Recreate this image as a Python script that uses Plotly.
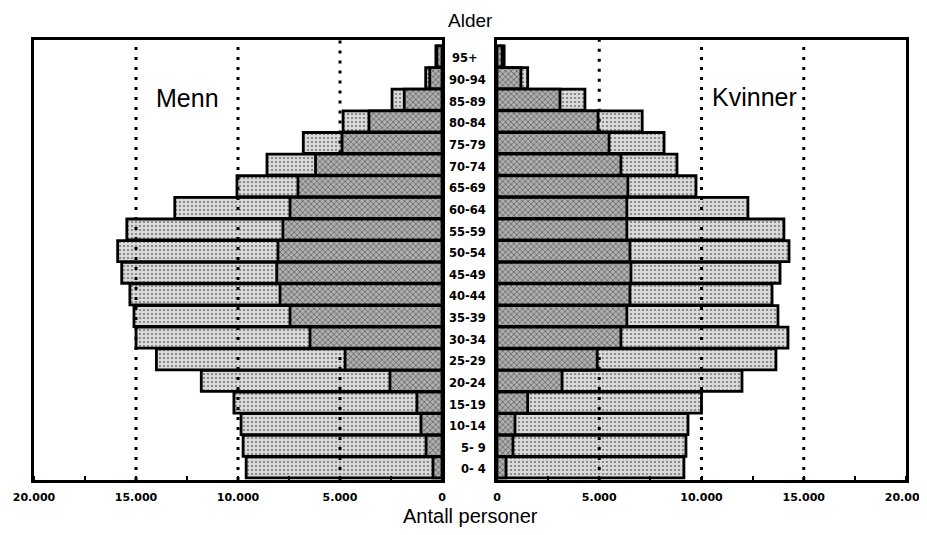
import plotly.graph_objects as go

ages = ["0- 4", "5- 9", "10-14", "15-19", "20-24", "25-29", "30-34", "35-39", "40-44",
        "45-49", "50-54", "55-59", "60-64", "65-69", "70-74", "75-79", "80-84", "85-89",
        "90-94", "95+"]

menn_total = [9600, 9750, 9850, 10200, 11800, 14000, 15000, 15100, 15300,
              15700, 15900, 15450, 13100, 10050, 8580, 6800, 4850, 2450, 800, 300]
menn_inner = [440, 780, 1030, 1230, 2550, 4750, 6470, 7450, 7940,
              8100, 8040, 7800, 7450, 7060, 6200, 4900, 3580, 1850, 600, 250]

kvinner_total = [9140, 9240, 9340, 10000, 11980, 13640, 14230, 13740, 13450,
                 13840, 14280, 14030, 12270, 9730, 8800, 8170, 7100, 4300, 1500, 350]
kvinner_inner = [440, 780, 880, 1500, 3180, 4900, 6060, 6350, 6500,
                 6550, 6500, 6350, 6350, 6400, 6060, 5480, 4940, 3080, 1170, 250]

tick_vals = [0, 5000, 10000, 15000, 20000]
tick_text = ["0", "5.000", "10.000", "15.000", "20.000"]
grid_vals = [5000, 10000, 15000]

outer_marker = dict(
    color="#d6d6d6",
    line=dict(color="black", width=2.8),
    pattern=dict(shape=".", fgcolor="#1a1a1a", bgcolor="#d9d9d9", size=4, solidity=0.24),
)
inner_marker = dict(
    color="#a8a8a8",
    line=dict(color="black", width=2.8),
    pattern=dict(shape="x", fgcolor="#1e1e1e", bgcolor="#b0b0b0", size=4, solidity=0.38),
)

fig = go.Figure()
fig.add_trace(go.Bar(y=ages, x=menn_total, orientation="h", xaxis="x", yaxis="y",
                     marker=outer_marker, width=0.97, showlegend=False))
fig.add_trace(go.Bar(y=ages, x=menn_inner, orientation="h", xaxis="x", yaxis="y",
                     marker=inner_marker, width=0.97, showlegend=False))
fig.add_trace(go.Bar(y=ages, x=kvinner_total, orientation="h", xaxis="x2", yaxis="y2",
                     marker=outer_marker, width=0.97, showlegend=False))
fig.add_trace(go.Bar(y=ages, x=kvinner_inner, orientation="h", xaxis="x2", yaxis="y2",
                     marker=inner_marker, width=0.97, showlegend=False))

# The page body has an 8px margin; size the figure so the plot lands where intended.
OFF = 8
W, H = 927 - OFF, 535 - OFF
ml, mt = 34 - OFF, 40 - OFF
mr = W - (906 - OFF)
mb = H - (480 - OFF)
pw = W - ml - mr
left_end = (442 - 34) / pw
right_start = (497 - 34) / pw

YR = [-0.58, 19.76]

tickfont = dict(family="DejaVu Sans", size=11, color="black", weight="bold")
common_x = dict(
    showline=True, linewidth=3, linecolor="black", mirror=True,
    showgrid=False,
    tickvals=tick_vals, ticktext=tick_text, ticks="",
    tickfont=tickfont, zeroline=False, ticklabelstandoff=5, automargin=False,
    ticklabeloverflow="allow",
    minor=dict(ticks="inside", ticklen=4, tickwidth=2, tickcolor="black",
               dtick=2500, tick0=0, showgrid=False),
)
common_y = dict(
    showline=True, linewidth=3, linecolor="black", mirror=True,
    showgrid=False, showticklabels=False, ticks="", zeroline=False,
    categoryorder="array", categoryarray=ages, range=YR, automargin=False,
)

fig.update_layout(
    width=W, height=H,
    margin=dict(l=ml, r=mr, t=mt, b=mb, autoexpand=False),
    paper_bgcolor="white", plot_bgcolor="white",
    barmode="overlay",
    xaxis=dict(domain=[0, left_end], range=[20000, 0], anchor="y", **common_x),
    xaxis2=dict(domain=[right_start, 1], range=[0, 20000], anchor="y2", **common_x),
    yaxis=dict(anchor="x", **common_y),
    yaxis2=dict(anchor="x2", matches="y", **common_y),
    font=dict(family="Liberation Sans", color="black"),
)

# dotted reference lines: visible over the light bars, hidden behind the dark inner bars
def add_dotted(inner, xref, yref):
    n = len(inner)
    for g in grid_vals:
        i = 0
        while i < n:
            if inner[i] < g:
                j = i
                while j + 1 < n and inner[j + 1] < g:
                    j += 1
                y0 = YR[0] if i == 0 else i - 0.485
                y1 = YR[1] if j == n - 1 else j + 0.485
                fig.add_shape(type="line", xref=xref, yref=yref, x0=g, x1=g, y0=y0, y1=y1,
                              layer="above",
                              line=dict(color="black", width=3, dash="3px,7px"))
                i = j + 1
            else:
                i += 1

add_dotted(menn_inner, "x", "y")
add_dotted(kvinner_inner, "x2", "y2")

age_font = dict(family="DejaVu Sans", size=11.5, color="black", weight="bold")
for a in ages:
    if a == "95+":
        fig.add_annotation(x=(450 - 34) / pw, xref="paper", y=a, yref="y", text=a,
                           showarrow=False, xanchor="left", yshift=-2, font=age_font)
    else:
        fig.add_annotation(x=(488 - 34) / pw, xref="paper", y=a, yref="y", text=a,
                           showarrow=False, xanchor="right", yshift=-2, font=age_font)

fig.add_annotation(x=(470 - 34) / pw, xref="paper", y=1 + 20 / 440, yref="paper",
                   text="Alder", showarrow=False, xanchor="center", yanchor="middle",
                   font=dict(family="Liberation Sans", size=19, color="black"))
fig.add_annotation(x=(470 - 34) / pw, xref="paper", y=-(516 - 480) / 440, yref="paper",
                   text="Antall personer", showarrow=False, xanchor="center", yanchor="middle",
                   font=dict(family="Liberation Sans", size=20, color="black"))
fig.add_annotation(x=12500, xref="x", y=(480 - 98) / 440, yref="paper",
                   text="Menn", showarrow=False, xanchor="center", yanchor="middle",
                   font=dict(family="Liberation Sans", size=25, color="black"))
fig.add_annotation(x=12600, xref="x2", y=(480 - 97) / 440, yref="paper",
                   text="Kvinner", showarrow=False, xanchor="center", yanchor="middle",
                   font=dict(family="Liberation Sans", size=25, color="black"))

fig.write_html("out.html")
